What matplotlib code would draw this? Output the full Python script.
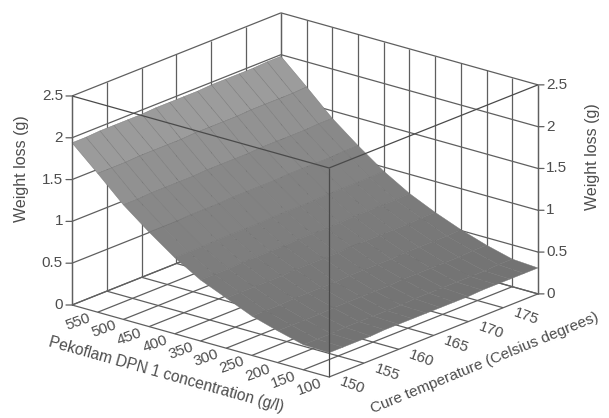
import numpy as np
import matplotlib
matplotlib.use("Agg")
import matplotlib.pyplot as plt
from matplotlib.colors import LinearSegmentedColormap
from mpl_toolkits.mplot3d import proj3d

plt.rcParams['font.family'] = ['Liberation Sans', 'DejaVu Sans']

conc_ticks = [100, 150, 200, 250, 300, 350, 400, 450, 500, 550]
temp_ticks = [150, 155, 160, 165, 170, 175]
z_ticks = [0, 0.5, 1, 1.5, 2, 2.5]
z_labels = ['0', '0.5', '1', '1.5', '2', '2.5']
conc_grid = [50, 100, 150, 200, 250, 300, 350, 400, 450, 500, 550]
temp_grid = [150, 155, 160, 165, 170, 175, 180]

mesh_conc = [50, 100, 150, 200, 250, 300, 350, 400, 450, 500, 550]
mesh_temp = [150, 152, 154, 156, 158, 160, 162, 164, 166, 168, 170, 172, 174, 176, 178, 180]
weight_loss = [
    [0.29, 0.29, 0.29, 0.29, 0.30, 0.30, 0.30, 0.30, 0.30, 0.30, 0.30, 0.31, 0.31, 0.31, 0.31, 0.31],
    [0.30, 0.30, 0.30, 0.31, 0.31, 0.31, 0.31, 0.31, 0.32, 0.32, 0.32, 0.32, 0.32, 0.32, 0.33, 0.33],
    [0.38, 0.38, 0.38, 0.38, 0.39, 0.39, 0.39, 0.39, 0.39, 0.40, 0.40, 0.40, 0.40, 0.40, 0.41, 0.41],
    [0.47, 0.47, 0.47, 0.48, 0.48, 0.48, 0.48, 0.49, 0.49, 0.49, 0.49, 0.50, 0.50, 0.50, 0.50, 0.51],
    [0.60, 0.60, 0.60, 0.60, 0.60, 0.61, 0.61, 0.61, 0.61, 0.62, 0.62, 0.62, 0.62, 0.62, 0.63, 0.63],
    [0.73, 0.73, 0.73, 0.74, 0.74, 0.74, 0.74, 0.75, 0.75, 0.75, 0.75, 0.76, 0.76, 0.76, 0.76, 0.77],
    [0.91, 0.91, 0.91, 0.92, 0.92, 0.92, 0.92, 0.93, 0.93, 0.93, 0.93, 0.94, 0.94, 0.94, 0.94, 0.95],
    [1.13, 1.13, 1.13, 1.14, 1.14, 1.14, 1.15, 1.15, 1.15, 1.15, 1.16, 1.16, 1.16, 1.16, 1.17, 1.17],
    [1.37, 1.37, 1.38, 1.38, 1.38, 1.38, 1.39, 1.39, 1.39, 1.39, 1.40, 1.40, 1.40, 1.40, 1.41, 1.41],
    [1.66, 1.66, 1.66, 1.67, 1.67, 1.67, 1.67, 1.68, 1.68, 1.68, 1.68, 1.69, 1.69, 1.69, 1.69, 1.70],
    [1.94, 1.94, 1.95, 1.95, 1.95, 1.95, 1.96, 1.96, 1.96, 1.96, 1.97, 1.97, 1.97, 1.97, 1.98, 1.98],
]

W, H = 609, 418
fig = plt.figure(figsize=(W / 100, H / 100), dpi=100, facecolor='white')
ax = fig.add_axes([0.0, 0.0, 1.0, 1.0], projection='3d', proj_type='ortho',
                  facecolor='none', computed_zorder=False)
ax.set_axis_off()
X0, X1, Y0, Y1, Z0, Z1 = 550, 50, 150, 180, 0, 2.5
ax.set_xlim(X0, X1)
ax.set_ylim(Y0, Y1)
ax.set_zlim(Z0, Z1)
ax.view_init(elev=19.5, azim=-50)
ax.set_box_aspect((335.5, 325, 221.7))


def calibrate():
    """Place the axes so the box corners land at the reference pixel positions."""
    target = {'L': (72, 305), 'R': (538, 294)}
    for _ in range(3):
        fig.canvas.draw()
        M = ax.get_proj()
        def px(x, y, z):
            a, b, _c = proj3d.proj_transform(x, y, z, M)
            return ax.transData.transform((a, b))
        l, r = px(X0, Y0, Z0), px(X1, Y1, Z0)
        scale = (target['R'][0] - target['L'][0]) / (r[0] - l[0])
        pos = ax.get_position(original=True)
        w, h = pos.width * scale, pos.height * scale
        ax.set_position([pos.x0, pos.y0, w, h])
        fig.canvas.draw()
        M = ax.get_proj()
        l = px(X0, Y0, Z0)
        dx = (target['L'][0] - l[0]) / W
        dy = ((H - target['L'][1]) - l[1]) / H
        pos = ax.get_position(original=True)
        ax.set_position([pos.x0 + dx, pos.y0 + dy, pos.width, pos.height])


calibrate()
fig.canvas.draw()

GRID = '#5f5f5f'
BOX = '#4a4a4a'
lw = 0.9


def seg(x, y, z, zorder=1, color=GRID, lwd=lw):
    ax.plot(x, y, z, color=color, lw=lwd, zorder=zorder, solid_capstyle='butt')


# floor grid
for c in conc_grid:
    seg([c, c], [Y0, Y1], [0, 0])
for t in temp_grid:
    seg([X0, X1], [t, t], [0, 0])
# back walls
for t in temp_grid:
    seg([X0, X0], [t, t], [0, 2.5])
for c in conc_grid:
    seg([c, c], [Y1, Y1], [0, 2.5])
for z in z_ticks:
    seg([X0, X0], [Y0, Y1], [z, z])
    seg([X0, X1], [Y1, Y1], [z, z])

# surface
XX, YY = np.meshgrid(mesh_conc, mesh_temp, indexing='ij')
ZZ = np.array(weight_loss)
cmap = LinearSegmentedColormap.from_list('g', ['#737373', '#848484', '#a2a2a2'])
ax.plot_surface(XX, YY, ZZ, rstride=1, cstride=1, cmap=cmap, vmin=0.3, vmax=2.0,
                shade=False, edgecolor='#747474', linewidth=0.3, antialiased=True, zorder=2)

# front box edges drawn over the surface
seg([X1, X1], [Y0, Y0], [0, 2.5], 3, BOX)
seg([X0, X1], [Y0, Y0], [2.5, 2.5], 3, BOX)
seg([X1, X1], [Y0, Y1], [2.5, 2.5], 3, BOX)
seg([X0, X0], [Y0, Y0], [0, 2.5], 3, GRID)
seg([X1, X1], [Y1, Y1], [0, 2.5], 3, GRID)

M = ax.get_proj()
TXT = '#4d4d4d'


def place(x, y, z, text, off, rot=0, size=11, ha='center', va='center'):
    a, b, _c = proj3d.proj_transform(x, y, z, M)
    ax.annotate(text, (a, b), xytext=off, textcoords='offset pixels', rotation=rot,
                rotation_mode='anchor', ha=ha, va=va, fontsize=size, color=TXT,
                annotation_clip=False)


def tick(x, y, z, dx):
    a, b, _c = proj3d.proj_transform(x, y, z, M)
    ax.annotate('', (a, b), xytext=(dx, 0), textcoords='offset pixels',
                arrowprops=dict(arrowstyle='-', color=GRID, lw=lw, shrinkA=0, shrinkB=0),
                annotation_clip=False)


for z, s in zip(z_ticks, z_labels):
    tick(X0, Y0, z, -6)
    tick(X1, Y1, z, 6)
    place(X0, Y0, z, s, (-9, 0), ha='right')
    place(X1, Y1, z, s, (8, 0), ha='left')

for c in conc_ticks:
    place(c, Y0, 0, str(c), (6, -17), rot=20)
for t in temp_ticks:
    place(X1, t, 0, str(t), (23, -9), rot=-20)

fig.text(22 / W, 1 - 169 / H, 'Weight loss (g)', rotation=90, ha='center', va='center',
         fontsize=11.5, color=TXT)
fig.text(593 / W, 1 - 157 / H, 'Weight loss (g)', rotation=90, ha='center', va='center',
         fontsize=11.5, color=TXT)
fig.text(166 / W, 1 - 375 / H, 'Pekoflam DPN 1 concentration (g/l)', rotation=-15.7,
         rotation_mode='anchor', ha='center', va='center', fontsize=11.2, color=TXT)
fig.text(485 / W, 1 - 363 / H, 'Cure temperature (Celsius degrees)', rotation=22.3,
         rotation_mode='anchor', ha='center', va='center', fontsize=11.1, color=TXT)

fig.savefig('out.png', dpi=100, facecolor='white')
